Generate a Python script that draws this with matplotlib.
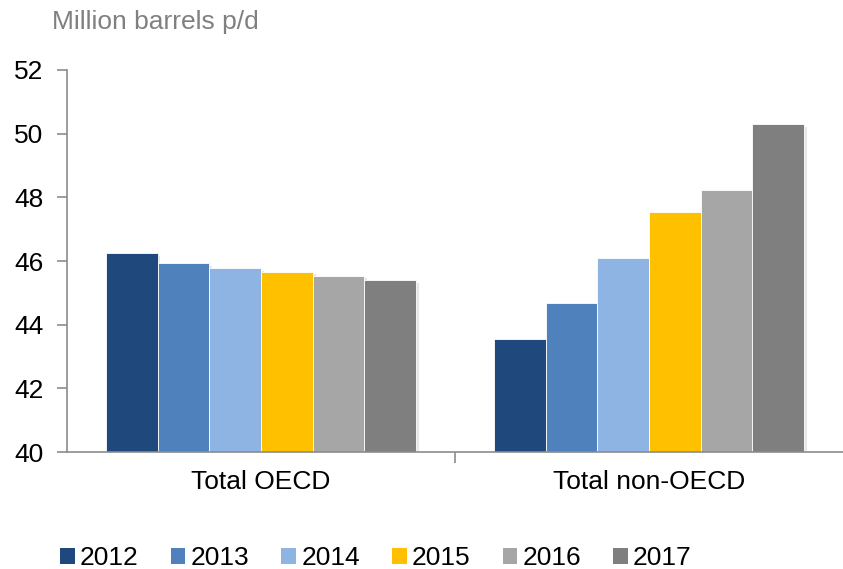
import matplotlib
matplotlib.use("Agg")
import matplotlib.pyplot as plt
import matplotlib.patheffects as pe
from matplotlib.patches import Patch
import numpy as np

plt.rcParams['font.family'] = ['Liberation Sans', 'DejaVu Sans']

# dados
categorias = ['Total OECD', 'Total non-OECD']
anos = ['2012', '2013', '2014', '2015', '2016', '2017']
oecd = [46.26, 45.94, 45.77, 45.67, 45.54, 45.41]
non_oecd = [43.55, 44.69, 46.08, 47.53, 48.22, 50.30]
cores = ['#1F497D', '#4F81BD', '#8EB4E3', '#FFC000', '#A6A6A6', '#7F7F7F']

fs = 19
fig = plt.figure(figsize=(8.43, 5.69), dpi=100)
ax = fig.add_axes([0.0795, 0.2056, 0.9205, 0.6714])

x = np.arange(len(categorias))
largura = 0.8 / len(anos)
for i, ano in enumerate(anos):
    vals = [oecd[i], non_oecd[i]]
    pos = x - 0.4 + largura * (i + 0.5)
    ax.bar(pos, np.array(vals) - 40, bottom=40, width=largura, color=cores[i],
           edgecolor='white', linewidth=0.6, zorder=2,
           path_effects=[pe.SimplePatchShadow(offset=(2, -2), shadow_rgbFace='#c8c8c8', alpha=0.45),
                         pe.Normal()])

ax.set_ylim(40, 52)
ax.set_xlim(-0.5, 1.5)
ax.set_yticks(np.arange(40, 53, 2))
ax.set_xticks(x)
ax.set_xticklabels(categorias)
ax.set_xticks([0.5], minor=True)

for s in ['top', 'right']:
    ax.spines[s].set_visible(False)
for s in ['left', 'bottom']:
    ax.spines[s].set_color('#8c8c8c')
    ax.spines[s].set_linewidth(1.2)

ax.tick_params(axis='y', length=7, width=1.2, color='#8c8c8c', labelsize=fs, pad=10)
ax.tick_params(axis='x', which='major', length=0, labelsize=fs, pad=13)
ax.tick_params(axis='x', which='minor', length=8, width=1.2, color='#8c8c8c')

fig.text(52 / 843, 1 - 22 / 569, 'Million barrels p/d', fontsize=fs, color='#808080',
         ha='left', va='center')

handles = [Patch(facecolor=c, edgecolor='none') for c in cores]
fig.legend(handles, anos, loc='center', bbox_to_anchor=(0.446, 1 - 558 / 569), ncol=6,
           frameon=False, fontsize=fs, handlelength=0.55, handleheight=0.55,
           handletextpad=0.2, columnspacing=1.22, borderaxespad=0)

fig.savefig('out.png', dpi=100)
